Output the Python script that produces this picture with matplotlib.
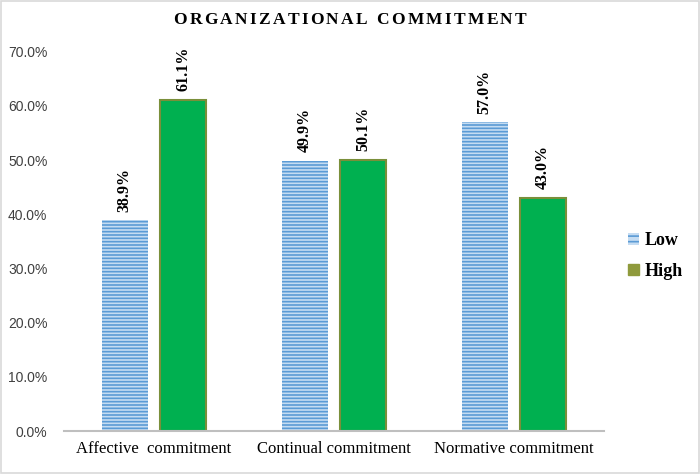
import numpy as np
import matplotlib.pyplot as plt
from matplotlib.patches import Rectangle

categories = ["Affective  commitment", "Continual commitment", "Normative commitment"]
low = [38.9, 49.9, 57.0]
high = [61.1, 50.1, 43.0]
yticks = [0, 10, 20, 30, 40, 50, 60, 70]

plt.rcParams["hatch.linewidth"] = 1.2

fig = plt.figure(figsize=(7, 4.74), dpi=100)
ax = fig.add_axes([0.0914, 0.0907, 0.771, 0.80])

x = np.arange(len(categories))
w = 0.256
off = 0.162

b1 = ax.bar(x - off, low, w, color="#c5dcf2", edgecolor="#5b9bd5", hatch="-----",
            linewidth=0, label="Low")
b2 = ax.bar(x + off, high, w, color="#00b050", edgecolor="#7a8f3a", linewidth=1.5,
            label="High")

for bars, vals in [(b1, low), (b2, high)]:
    for r, v in zip(bars, vals):
        ax.text(r.get_x() + r.get_width() / 2, v + 1.6, f"{v:.1f}%", rotation=90,
                ha="center", va="bottom", fontsize=11.5, fontweight="bold",
                family="Liberation Serif")

ax.set_xlim(-0.5, 2.5)
ax.set_ylim(0, 70)
ax.set_yticks(yticks)
ax.set_yticklabels([f"{t:.1f}%" for t in yticks], family="Liberation Sans",
                   fontsize=10, color="#404040")
ax.set_xticks(x)
ax.set_xticklabels(categories, family="Liberation Serif", fontsize=12)
ax.tick_params(length=0, pad=7)
ax.tick_params(axis="y", pad=12)
for s in ["top", "right", "left"]:
    ax.spines[s].set_visible(False)
ax.spines["bottom"].set_color("#bfbfbf")
ax.spines["bottom"].set_linewidth(1.5)

# title with letter spacing: place each character by hand
title = "ORGANIZATIONAL COMMITMENT"
tprops = dict(fontsize=12.5, fontweight="bold", family="Liberation Serif", va="center")
fig.canvas.draw()
rend = fig.canvas.get_renderer()
widths = []
for ch in title:
    t = fig.text(0, 0, ch if ch != " " else "i", **tprops)
    widths.append(t.get_window_extent(rend).width)
    t.remove()
track = 2.3
total = sum(widths) + track * (len(title) - 1)
xpos = 350 - total / 2
for ch, cw in zip(title, widths):
    if ch != " ":
        fig.text(xpos / 700, 1 - 20 / 474, ch, ha="left", **tprops)
    xpos += cw + track

h1 = Rectangle((0, 0), 1, 1, facecolor="#c5dcf2", edgecolor="#5b9bd5", hatch="---", linewidth=0)
h2 = Rectangle((0, 0), 1, 1, facecolor="#8f9a3c", edgecolor="#8f9a3c")
fig.legend([h1, h2], ["Low", "High"], loc="center left", bbox_to_anchor=(0.874, 0.46),
           frameon=False, prop={"family": "Liberation Serif", "weight": "bold", "size": 13},
           handlelength=0.6, handleheight=0.6, labelspacing=0.75, handletextpad=0.3)

fig.add_artist(Rectangle((0.002, 0.002), 0.996, 0.996, transform=fig.transFigure,
                         fill=False, edgecolor="#d9d9d9", linewidth=1.2))

fig.savefig("out.png", dpi=100)
